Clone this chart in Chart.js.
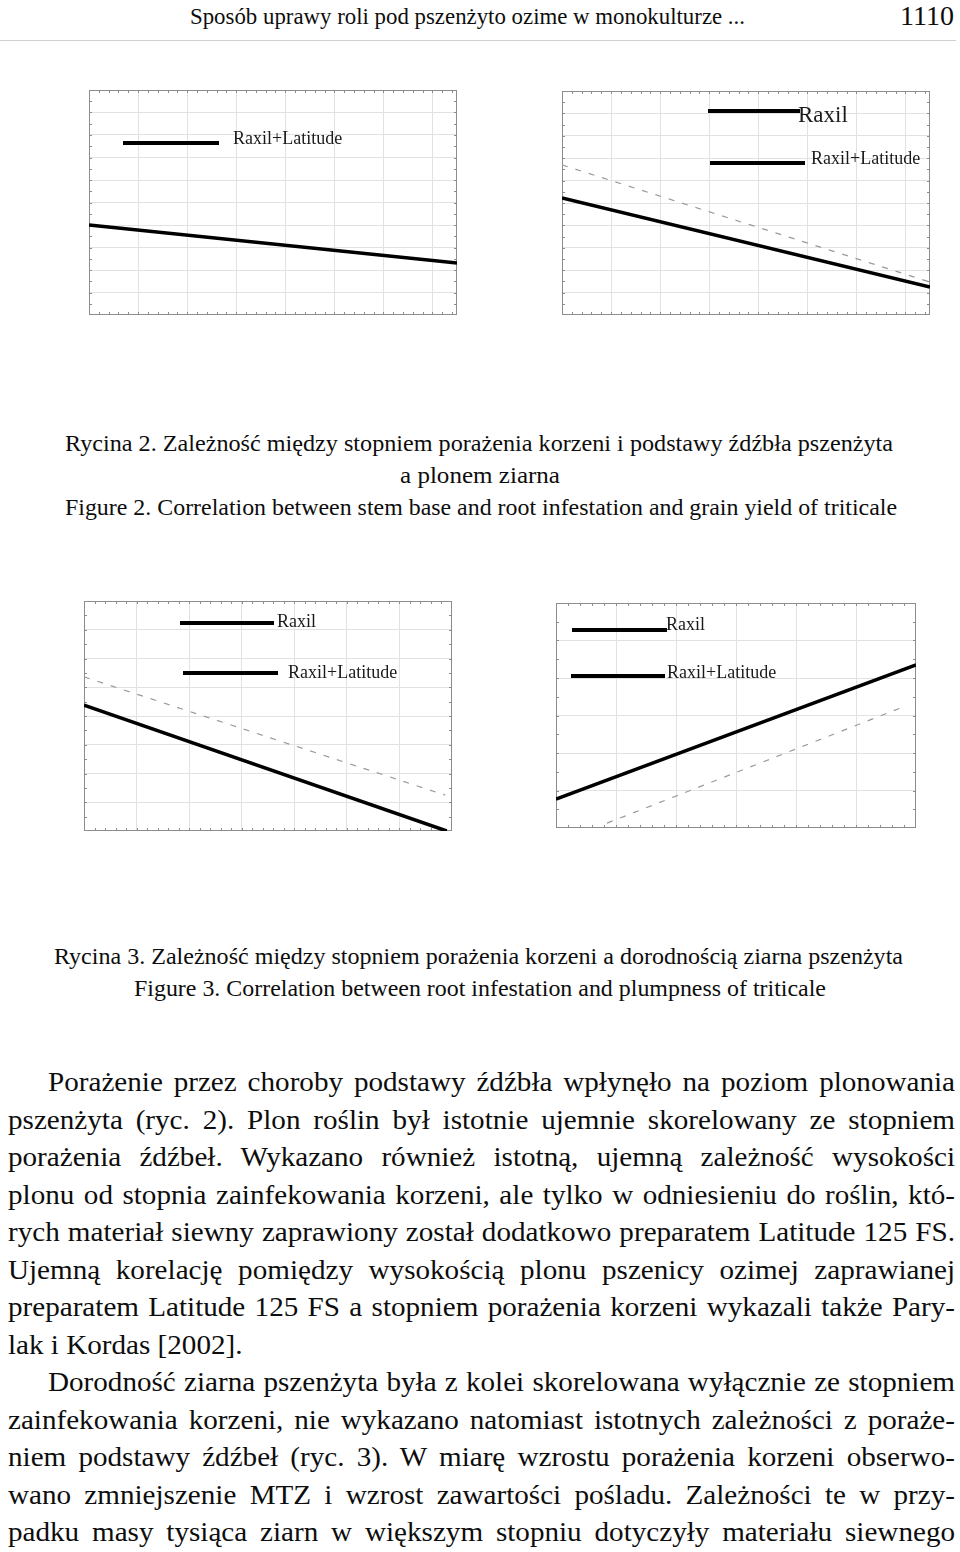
<!DOCTYPE html>
<html lang="pl">
<head>
<meta charset="utf-8">
<title>Rycina 2 i 3</title>
<script src="https://cdn.jsdelivr.net/npm/chart.js@4.4.1/dist/chart.umd.min.js"></script>
<style>
  html, body { margin: 0; padding: 0; background: #fff; }
  #page { position: relative; width: 960px; height: 1552px; overflow: hidden;
          font-family: 'Liberation Serif', 'Times New Roman', serif; color: #0d0d0d; }
  .ln { position: absolute; white-space: nowrap; transform-origin: 0 0; }
  .panel { position: absolute; }
  .bar { position: absolute; height: 4px; background: #000; }
  .lab { position: absolute; white-space: nowrap; line-height: 20px; font-size: 18px; color: #1a1a1a; }
  #rule { position: absolute; left: 0; top: 40px; width: 956px; height: 1px; background: #cfcfcf; }
</style>
</head>
<body>
<div id="page">
  <div class="ln sx" data-w="555" style="left:190px; top:1px; font-size:24px; line-height:30px;">Sposób uprawy roli pod pszenżyto ozime w monokulturze ...</div>
  <div class="ln sx" data-w="54" style="left:900px; top:1px; font-size:27px; line-height:30px;">1110</div>
  <div id="rule"></div>

  <div class="panel" id="p1" style="left:89px; top:90px;"><canvas id="c1" width="368" height="225"></canvas></div>
  <div class="panel" id="p2" style="left:562px; top:91px;"><canvas id="c2" width="368" height="224"></canvas></div>
  <div class="panel" id="p3" style="left:84px; top:601px;"><canvas id="c3" width="368" height="230"></canvas></div>
  <div class="panel" id="p4" style="left:556px; top:603px;"><canvas id="c4" width="360" height="225"></canvas></div>

  <!-- legendy wewnątrz wykresów -->
  <div class="bar" style="left:123px; top:141px; width:96px;"></div>
  <div class="lab" style="left:233px; top:128px;">Raxil+Latitude</div>

  <div class="bar" style="left:708px; top:109px; width:92px;"></div>
  <div class="lab" style="left:798px; top:101px; font-size:23px; line-height:28px;">Raxil</div>
  <div class="bar" style="left:710px; top:161px; width:95px;"></div>
  <div class="lab" style="left:811px; top:148px;">Raxil+Latitude</div>

  <div class="bar" style="left:180px; top:621px; width:94px;"></div>
  <div class="lab" style="left:277px; top:611px;">Raxil</div>
  <div class="bar" style="left:183px; top:671px; width:95px;"></div>
  <div class="lab" style="left:288px; top:662px;">Raxil+Latitude</div>

  <div class="bar" style="left:572px; top:628px; width:95px;"></div>
  <div class="lab" style="left:666px; top:614px;">Raxil</div>
  <div class="bar" style="left:571px; top:674px; width:94px;"></div>
  <div class="lab" style="left:667px; top:662px;">Raxil+Latitude</div>

  <!-- podpisy -->
  <div class="ln sx" data-w="828" style="left:65px; top:427px; font-size:24px; line-height:32px;">Rycina 2. Zależność między stopniem porażenia korzeni i podstawy źdźbła pszenżyta</div>
  <div class="ln sx" data-w="160" style="left:400px; top:459px; font-size:24px; line-height:32px;">a plonem ziarna</div>
  <div class="ln sx" data-w="832" style="left:65px; top:491px; font-size:24px; line-height:32px;">Figure 2. Correlation between stem base and root infestation and grain yield of triticale</div>

  <div class="ln sx" data-w="849" style="left:54px; top:940px; font-size:24px; line-height:32px;">Rycina 3. Zależność między stopniem porażenia korzeni a dorodnością ziarna pszenżyta</div>
  <div class="ln sx" data-w="692" style="left:134px; top:972px; font-size:24px; line-height:32px;">Figure 3. Correlation between root infestation and plumpness of triticale</div>

  <div id="body"></div>
</div>

<script>
// Ryc. 2 (lewy): tylko Raxil+Latitude, linia regresji
const r2aLatX = [0, 7.5];
const r2aLatY = [4.0, 2.31];

// Ryc. 2 (prawy)
const r2bLatX = [0, 7.5];
const r2bLatY = [5.22, 1.25];
const r2bRaxX = [0, 7.5];
const r2bRaxY = [6.70, 1.47];

// Ryc. 3 (lewy)
const r3aLatX = [0, 6.9];
const r3aLatY = [4.38, 0];
const r3aRaxX = [0, 6.87];
const r3aRaxY = [5.36, 1.25];

// Ryc. 3 (prawy)
const r3bLatX = [0, 6];
const r3bLatY = [0.77, 4.35];
const r3bRaxX = [0.85, 5.82];
const r3bRaxY = [0.13, 3.25];

// siatka (etykiety osi w oryginale nieczytelne)
const grid75 = [0, 1, 2, 3, 4, 5, 6, 7, 7.5];
const grid10 = [0, 1, 2, 3, 4, 5, 6, 7, 8, 9, 10];
const grid7 = [0, 1, 2, 3, 4, 5, 6, 7];
const grid8 = [0, 1, 2, 3, 4, 5, 6, 7, 8];
const grid6 = [0, 1, 2, 3, 4, 5, 6];

const bodyLines = [
    'Porażenie przez choroby podstawy źdźbła wpłynęło na poziom plonowania',
    'pszenżyta (ryc. 2). Plon roślin był istotnie ujemnie skorelowany ze stopniem',
    'porażenia źdźbeł. Wykazano również istotną, ujemną zależność wysokości',
    'plonu od stopnia zainfekowania korzeni, ale tylko w odniesieniu do roślin, któ-',
    'rych materiał siewny zaprawiony został dodatkowo preparatem Latitude 125 FS.',
    'Ujemną korelację pomiędzy wysokością plonu pszenicy ozimej zaprawianej',
    'preparatem Latitude 125 FS a stopniem porażenia korzeni wykazali także Pary-',
    'lak i Kordas [2002].',
    'Dorodność ziarna pszenżyta była z kolei skorelowana wyłącznie ze stopniem',
    'zainfekowania korzeni, nie wykazano natomiast istotnych zależności z poraże-',
    'niem podstawy źdźbeł (ryc. 3). W miarę wzrostu porażenia korzeni obserwo-',
    'wano zmniejszenie MTZ i wzrost zawartości pośladu. Zależności te w przy-',
    'padku masy tysiąca ziarn w większym stopniu dotyczyły materiału siewnego'
];
const indentLines = [0, 8];
const lastLines = [7];

const toPts = (xs, ys) => xs.map((x, i) => ({ x: x, y: ys[i] }));

// ramka + drobne kreski podziałki do środka
const framePlugin = {
    id: 'frame',
    beforeDatasetsDraw(chart, args, opts) {
        const { ctx, chartArea: a, scales: { x, y } } = chart;
        ctx.save();
        ctx.strokeStyle = '#8c8c8c';
        ctx.lineWidth = 1;
        ctx.strokeRect(a.left + 0.5, a.top + 0.5, a.width - 1, a.height - 1);
        ctx.beginPath();
        const nx = Math.round((x.max - x.min) / opts.xMinor);
        for (let i = 0; i <= nx; i++) {
            const px = Math.round(x.getPixelForValue(x.min + i * opts.xMinor)) + 0.5;
            ctx.moveTo(px, a.bottom); ctx.lineTo(px, a.bottom - 3);
            ctx.moveTo(px, a.top); ctx.lineTo(px, a.top + 3);
        }
        const ny = Math.round((y.max - y.min) / opts.yMinor);
        for (let i = 0; i <= ny; i++) {
            const py = Math.round(y.getPixelForValue(y.min + i * opts.yMinor)) + 0.5;
            ctx.moveTo(a.left, py); ctx.lineTo(a.left + 3, py);
            ctx.moveTo(a.right, py); ctx.lineTo(a.right - 3, py);
        }
        ctx.stroke();
        ctx.restore();
    }
};

const solid = (pts) => ({
    label: 'Raxil+Latitude', data: pts, showLine: true,
    borderColor: '#000', borderWidth: 3.5, pointRadius: 0, order: 0
});
const dashed = (pts) => ({
    label: 'Raxil', data: pts, showLine: true,
    borderColor: '#9a9a9a', borderWidth: 1.2, borderDash: [6, 8], pointRadius: 0, order: 1
});

const makeChart = (id, datasets, xr, yr, xGrid, yGrid, xMinor, yMinor) => {
    const axis = (r, g) => ({
        type: 'linear', min: r[0], max: r[1],
        ticks: { display: false },
        grid: { color: '#e2e2e2', lineWidth: 1, drawTicks: false },
        border: { display: false },
        afterBuildTicks: (s) => { s.ticks = g.map(v => ({ value: v })); }
    });
    return new Chart(document.getElementById(id), {
        type: 'scatter',
        data: { datasets: datasets },
        options: {
            responsive: false,
            animation: false,
            layout: { padding: 0 },
            plugins: {
                legend: { display: false },
                tooltip: { enabled: false },
                frame: { xMinor: xMinor, yMinor: yMinor }
            },
            scales: { x: axis(xr, xGrid), y: axis(yr, yGrid) }
        },
        plugins: [framePlugin]
    });
};

makeChart('c1', [solid(toPts(r2aLatX, r2aLatY))], [0, 7.5], [0, 10], grid75, grid10, 0.2, 0.5);
makeChart('c2', [solid(toPts(r2bLatX, r2bLatY)), dashed(toPts(r2bRaxX, r2bRaxY))], [0, 7.5], [0, 10], grid75, grid10, 0.2, 0.5);
makeChart('c3', [solid(toPts(r3aLatX, r3aLatY)), dashed(toPts(r3aRaxX, r3aRaxY))], [0, 7], [0, 8], grid7, grid8, 0.2, 0.5);
makeChart('c4', [solid(toPts(r3bLatX, r3bLatY)), dashed(toPts(r3bRaxX, r3bRaxY))], [0, 6], [0, 6], grid6, grid6, 0.2, 0.5);

// tekst główny - każdy wiersz jak w oryginale
const bodyScale = 1.04;
const body = document.getElementById('body');
bodyLines.forEach((t, i) => {
    const d = document.createElement('div');
    d.className = 'ln just' + (lastLines.includes(i) ? ' nojust' : '');
    const left = indentLines.includes(i) ? 48 : 8;
    d.style.left = left + 'px';
    d.style.top = (1063 + i * 37.5) + 'px';
    d.style.fontSize = '28px';
    d.style.lineHeight = '37.5px';
    d.dataset.w = 955 - left;
    d.textContent = t;
    body.appendChild(d);
});

const fitAll = () => {
    // pojedyncze wiersze: dopasowanie do szerokości z oryginału
    document.querySelectorAll('.sx').forEach(el => {
        el.style.transform = 'none';
        const w = el.getBoundingClientRect().width;
        el.style.transform = 'scaleX(' + (parseFloat(el.dataset.w) / w) + ')';
    });
    // akapit: lekkie rozciągnięcie + wyjustowanie odstępami
    document.querySelectorAll('.just').forEach(el => {
        el.style.transform = 'none';
        el.style.letterSpacing = '0px';
        el.style.wordSpacing = '0px';
        if (!el.classList.contains('nojust')) {
            const w = el.getBoundingClientRect().width;
            const diff = parseFloat(el.dataset.w) / bodyScale - w;
            const spaces = (el.textContent.match(/ /g) || []).length;
            if (diff < 0 || !spaces) {
                el.style.letterSpacing = (diff / el.textContent.length) + 'px';
            } else {
                el.style.wordSpacing = (diff / spaces) + 'px';
            }
        }
        el.style.transform = 'scaleX(' + bodyScale + ')';
    });
};
fitAll();
document.fonts.ready.then(fitAll);
</script>
</body>
</html>
